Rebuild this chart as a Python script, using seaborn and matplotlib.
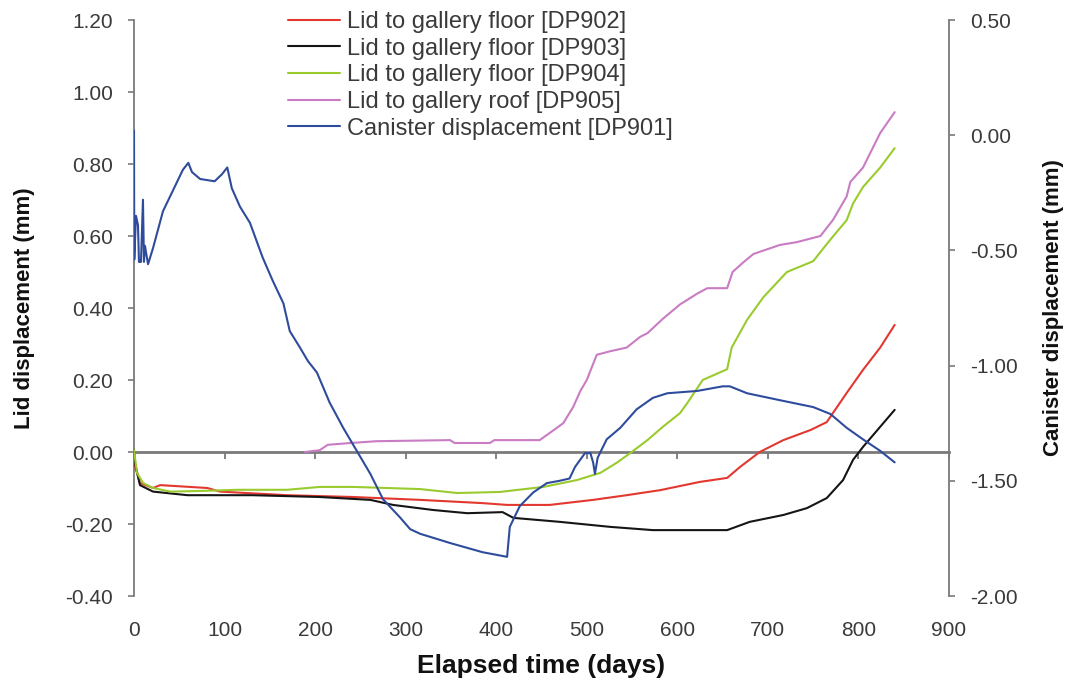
import matplotlib
matplotlib.use("Agg")
import matplotlib.pyplot as plt
import seaborn as sns
import pandas as pd

# ---------------- data ----------------
days_902 = [0, 6.6, 21, 29, 81, 95, 169, 242, 316, 385, 412, 459, 507, 544, 581, 625, 655, 669, 691, 717, 747, 765, 787, 805, 824, 840]
disp_902 = [-0.03, -0.086, -0.10, -0.092, -0.10, -0.11, -0.12, -0.125, -0.133, -0.142, -0.147, -0.147, -0.133, -0.12, -0.106, -0.083, -0.072, -0.042, 0.0, 0.033, 0.061, 0.083, 0.164, 0.228, 0.29, 0.353]

days_903 = [0, 1, 6.6, 21, 59, 131, 205, 261, 286, 330, 368, 407, 419, 470, 526, 573, 625, 655, 680, 717, 743, 765, 783, 794, 805, 824, 840]
disp_903 = [0.005, -0.03, -0.092, -0.11, -0.12, -0.12, -0.125, -0.133, -0.147, -0.161, -0.17, -0.167, -0.183, -0.194, -0.208, -0.217, -0.217, -0.217, -0.194, -0.175, -0.156, -0.128, -0.078, -0.022, 0.014, 0.07, 0.117]

days_904 = [0, 3.3, 10, 21, 40, 76, 114, 169, 205, 242, 316, 357, 404, 452, 489, 515, 533, 548, 567, 584, 603, 611, 628, 655, 660, 677, 695, 721, 750, 769, 787, 794, 805, 824, 840]
disp_904 = [0.005, -0.058, -0.086, -0.10, -0.11, -0.108, -0.105, -0.105, -0.097, -0.097, -0.103, -0.114, -0.111, -0.097, -0.078, -0.058, -0.03, -0.003, 0.033, 0.07, 0.108, 0.136, 0.20, 0.23, 0.29, 0.367, 0.43, 0.50, 0.53, 0.59, 0.644, 0.69, 0.736, 0.79, 0.844]

days_905 = [189, 205, 214, 239, 268, 349, 354, 393, 398, 448, 463, 474, 485, 493, 500, 511, 526, 544, 559, 567, 584, 603, 622, 633, 655, 661, 672, 684, 713, 732, 758, 772, 787, 791, 805, 824, 840]
disp_905 = [0.0, 0.005, 0.02, 0.025, 0.03, 0.033, 0.025, 0.025, 0.033, 0.033, 0.06, 0.08, 0.125, 0.17, 0.20, 0.27, 0.28, 0.29, 0.32, 0.33, 0.37, 0.41, 0.44, 0.455, 0.455, 0.50, 0.525, 0.55, 0.575, 0.583, 0.60, 0.645, 0.71, 0.75, 0.79, 0.886, 0.944]

days_901 = [0, 0.3, 2.2, 4.4, 5.5, 7.7, 9.9, 11, 12.1, 15.5, 21, 32, 43, 54, 60, 64, 73, 89, 97, 103, 108, 117, 128, 142, 153, 165, 172, 183, 192, 202, 216, 231, 246, 261, 275, 294, 305, 316, 349, 385, 412, 415, 426, 441, 456, 470, 481, 487, 498, 504, 507, 509, 512, 522, 537, 555, 573, 589, 622, 650, 658, 677, 713, 750, 769, 787, 805, 824, 840]
disp_901 = [0.02, -0.54, -0.35, -0.39, -0.55, -0.55, -0.28, -0.55, -0.48, -0.56, -0.49, -0.33, -0.24, -0.15, -0.12, -0.16, -0.19, -0.20, -0.17, -0.14, -0.23, -0.31, -0.38, -0.53, -0.63, -0.73, -0.85, -0.92, -0.98, -1.03, -1.16, -1.27, -1.37, -1.47, -1.58, -1.66, -1.71, -1.73, -1.77, -1.81, -1.83, -1.70, -1.61, -1.55, -1.51, -1.50, -1.49, -1.44, -1.38, -1.38, -1.42, -1.47, -1.40, -1.32, -1.27, -1.19, -1.14, -1.12, -1.11, -1.09, -1.09, -1.12, -1.15, -1.18, -1.21, -1.27, -1.32, -1.37, -1.42]

labels = ["Lid to gallery floor [DP902]", "Lid to gallery floor [DP903]",
          "Lid to gallery floor [DP904]", "Lid to gallery roof [DP905]",
          "Canister displacement [DP901]"]
colors = ["#e2382f", "#151515", "#9acb2e", "#c97cc3", "#2f4c9c"]

x_ticks = list(range(0, 1000, 100))
left_ticks = [-0.4, -0.2, 0.0, 0.2, 0.4, 0.6, 0.8, 1.0, 1.2]
right_ticks = [-2.0, -1.5, -1.0, -0.5, 0.0, 0.5]

# ---------------- style ----------------
sns.set_theme(style="white")
plt.rcParams["font.family"] = ["Liberation Sans", "DejaVu Sans"]
plt.rcParams["axes.unicode_minus"] = False

W, H = 1074, 691
fig = plt.figure(figsize=(W / 100, H / 100), dpi=100)
ax = fig.add_axes([134 / W, 1 - 596 / H, 815 / W, 576 / H])
ax2 = ax.twinx()

lw = 1.5
series = [(days_902, disp_902), (days_903, disp_903), (days_904, disp_904), (days_905, disp_905)]
for (d, v), lab, c in zip(series, labels[:4], colors[:4]):
    df = pd.DataFrame({"day": d, "val": v})
    sns.lineplot(data=df, x="day", y="val", ax=ax, color=c, lw=lw,
                 label=lab, estimator=None, sort=False, zorder=3)
df = pd.DataFrame({"day": days_901, "val": disp_901})
sns.lineplot(data=df, x="day", y="val", ax=ax2, color=colors[4], lw=lw,
             label=labels[4], estimator=None, sort=False, zorder=3)

for a in (ax, ax2):
    if a.get_legend() is not None:
        a.get_legend().remove()

axis_gray = "#7a7a7a"
text_col = "#3a3a3a"

ax.set_xlim(0, 900)
ax.set_ylim(-0.4, 1.2)
ax2.set_ylim(-2.0, 0.5)

ax.set_xticks(x_ticks)
ax.set_xticklabels([str(t) for t in x_ticks])
ax.set_yticks(left_ticks)
ax.set_yticklabels([f"{t:.2f}" for t in left_ticks])
ax2.set_yticks(right_ticks)
ax2.set_yticklabels([f"{t:.2f}" for t in right_ticks])

for s in ["top", "bottom", "right"]:
    ax.spines[s].set_visible(False)
for s in ["top", "bottom", "left"]:
    ax2.spines[s].set_visible(False)
ax.spines["left"].set_color(axis_gray)
ax.spines["left"].set_linewidth(1.3)
ax2.spines["right"].set_color(axis_gray)
ax2.spines["right"].set_linewidth(1.3)

ax.tick_params(axis="x", length=0, pad=18, labelsize=15, labelcolor=text_col)
ax.tick_params(axis="y", direction="out", length=4, width=1.2, color=axis_gray,
               pad=11, labelsize=15, labelcolor=text_col, left=True)
ax2.tick_params(axis="y", direction="out", length=4, width=1.2, color=axis_gray,
                pad=11, labelsize=15, labelcolor=text_col, right=True)

# horizontal axis line at zero with tick marks
sec = ax.secondary_xaxis(0.25)
sec.set_xticks(x_ticks)
sec.tick_params(axis="x", direction="out", length=5, width=1.3, color=axis_gray,
                labelbottom=False)
sec.spines["bottom"].set_color(axis_gray)
sec.spines["bottom"].set_linewidth(2.0)

ax.set_xlabel("Elapsed time (days)", fontsize=19, fontweight="bold", color="#111111", labelpad=10)
ax.set_ylabel("Lid displacement (mm)", fontsize=16, fontweight="bold", color="#111111", labelpad=22)
ax2.set_ylabel("Canister displacement (mm)", fontsize=16, fontweight="bold", color="#111111",
               labelpad=18, rotation=90)

h1, l1 = ax.get_legend_handles_labels()
h2, l2 = ax2.get_legend_handles_labels()
leg = ax2.legend(h1 + h2, l1 + l2, loc="upper left", bbox_to_anchor=(0.189, 1.016),
                 frameon=False, fontsize=17, handlelength=2.2, handletextpad=0.3,
                 labelspacing=0.2, borderpad=0, borderaxespad=0)
for t in leg.get_texts():
    t.set_color(text_col)

fig.savefig("out.png", dpi=100, facecolor="white")
